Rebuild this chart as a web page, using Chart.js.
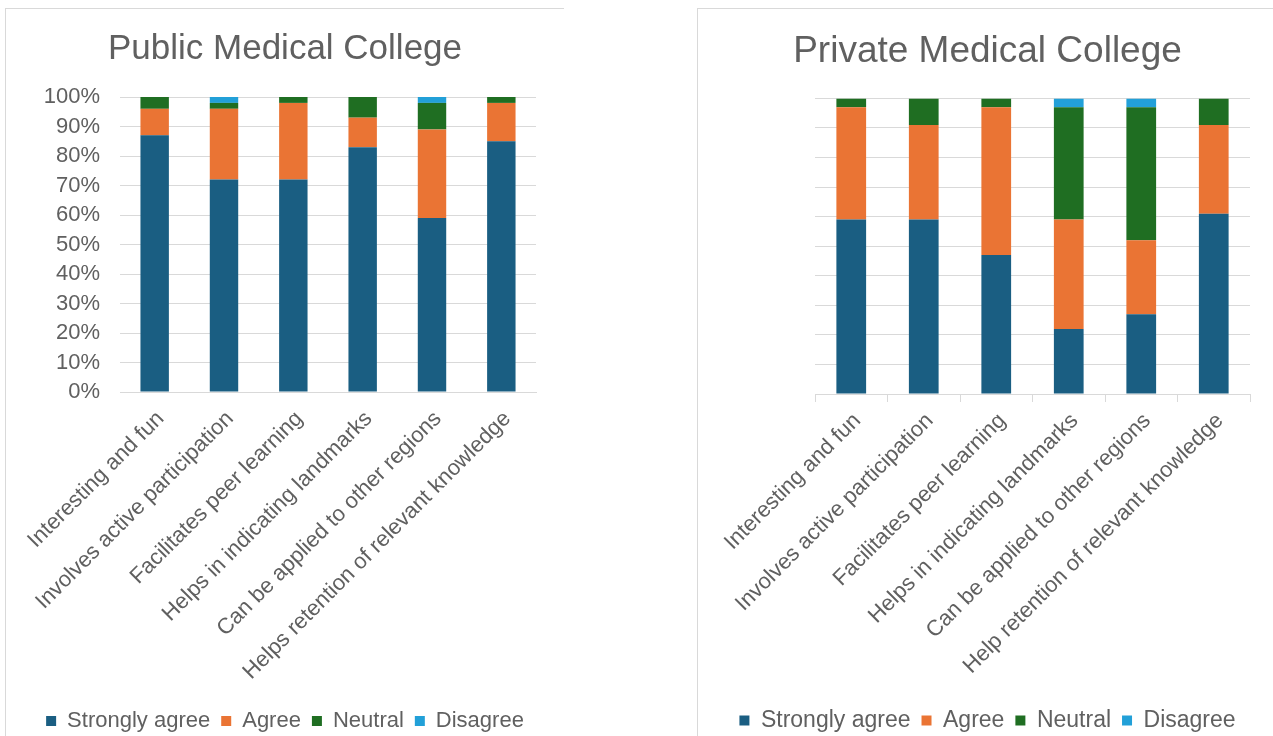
<!DOCTYPE html>
<html>
<head>
<meta charset="utf-8">
<script src="https://cdn.jsdelivr.net/npm/chart.js@4.4.1/dist/chart.umd.min.js"></script>
<style>
    body { margin: 0; background: #fff; overflow: hidden; width: 1273px; height: 736px; }
    .panel { position: absolute; border-top: 1px solid #d9d9d9; border-left: 1px solid #d9d9d9; }
    canvas { position: absolute; }
</style>
</head>
<body>
<div class="panel" style="left:5px; top:8px; width:558px; height:740px;"></div>
<div class="panel" style="left:697px; top:8px; width:600px; height:740px;"></div>
<canvas id="publicChart" width="560" height="734" style="left:5px; top:8px;"></canvas>
<canvas id="privateChart" width="579" height="734" style="left:698px; top:8px;"></canvas>
<script>
var publicLabels = ["Interesting and fun", "Involves active participation", "Facilitates peer learning",
    "Helps in indicating landmarks", "Can be applied to other regions", "Helps retention of relevant knowledge"];
var privateLabels = ["Interesting and fun", "Involves active participation", "Facilitates peer learning",
    "Helps in indicating landmarks", "Can be applied to other regions", "Help retention of relevant knowledge"];

var seriesNames = ["Strongly agree", "Agree", "Neutral", "Disagree"];
var seriesColors = ['#1a5e82', '#ea7434', '#1f6e22', '#22a0d8'];

// public medical college (%)
var publicStronglyAgree = [87, 72, 72, 83, 59, 85];
var publicAgree = [9, 24, 26, 10, 30, 13];
var publicNeutral = [4, 2, 2, 7, 9, 2];
var publicDisagree = [0, 2, 0, 0, 2, 0];

// private medical college (%)
var privateStronglyAgree = [59, 59, 47, 22, 27, 61];
var privateAgree = [38, 32, 50, 37, 25, 30];
var privateNeutral = [3, 9, 3, 38, 45, 9];
var privateDisagree = [0, 0, 0, 3, 3, 0];

var yTicks = [0, 10, 20, 30, 40, 50, 60, 70, 80, 90, 100];

var textColor = '#606060';
var gridColor = '#d9d9d9';
Chart.defaults.font.family = "'Liberation Sans', Arial, sans-serif";

function CreateStackedChart(id, title, labels, values, layout)
{
    var chart = document.getElementById(id).getContext("2d");

    var datasets = [];
    for (var i = 0; i < seriesNames.length; i++) {
        datasets.push({
            label: seriesNames[i],
            data: values[i],
            backgroundColor: seriesColors[i],
            borderWidth: 0,
            categoryPercentage: 1,
            barPercentage: 0.41
        });
    }

    var myBarChart = new Chart(chart, {
        type: 'bar',
        data: {
            labels: labels,
            datasets: datasets
        },
        options: {
            responsive: false,
            animation: false,
            layout: { padding: 0 },
            plugins: {
                title: {
                    display: true,
                    text: title,
                    color: textColor,
                    font: { size: layout.titleSize, weight: 'normal' },
                    padding: { top: layout.titleTop, bottom: layout.titleBottom }
                },
                legend: {
                    position: 'bottom',
                    labels: {
                        color: textColor,
                        font: { size: layout.legendSize },
                        boxWidth: 10,
                        boxHeight: 10,
                        padding: 11
                    }
                },
                tooltip: { enabled: false }
            },
            scales: {
                x: {
                    stacked: true,
                    grid: {
                        display: layout.tickMarks,
                        drawOnChartArea: false,
                        drawTicks: layout.tickMarks,
                        tickLength: 8,
                        color: gridColor
                    },
                    border: { display: true, color: gridColor },
                    ticks: {
                        color: textColor,
                        font: { size: 22 },
                        minRotation: 45,
                        maxRotation: 45,
                        autoSkip: false,
                        padding: layout.labelPad,
                        labelOffset: 6
                    },
                    afterFit: function (scale) {
                        scale.height = scale.chart.height - scale.chart.legend.height - layout.plotBottom;
                        scale.paddingLeft = 0;
                        scale.paddingRight = 0;
                    }
                },
                y: {
                    stacked: true,
                    min: 0,
                    max: 100,
                    afterBuildTicks: function (scale) {
                        scale.ticks = yTicks.map(function (v) { return { value: v }; });
                    },
                    grid: { color: gridColor, drawTicks: false },
                    border: { display: false },
                    ticks: {
                        display: layout.yLabels,
                        color: textColor,
                        font: { size: 22 },
                        padding: 20,
                        callback: function (v) { return v + '%'; }
                    },
                    afterFit: function (scale) {
                        scale.width = layout.plotLeft;
                    }
                },
                yRight: {
                    position: 'right',
                    display: true,
                    grid: { display: false },
                    border: { display: false },
                    ticks: { display: false },
                    afterFit: function (scale) {
                        scale.width = layout.rightGap;
                    }
                }
            }
        }
    });
}

CreateStackedChart('publicChart', 'Public Medical College', publicLabels,
    [publicStronglyAgree, publicAgree, publicNeutral, publicDisagree],
    { titleSize: 35, legendSize: 22, titleTop: 20, titleBottom: 27, plotLeft: 115, rightGap: 29,
      plotBottom: 384, labelPad: 14, tickMarks: false, yLabels: true });

CreateStackedChart('privateChart', 'Private Medical College', privateLabels,
    [privateStronglyAgree, privateAgree, privateNeutral, privateDisagree],
    { titleSize: 37, legendSize: 23, titleTop: 22, titleBottom: 24, plotLeft: 117, rightGap: 27,
      plotBottom: 386, labelPad: 6, tickMarks: true, yLabels: false });
</script>
</body>
</html>
